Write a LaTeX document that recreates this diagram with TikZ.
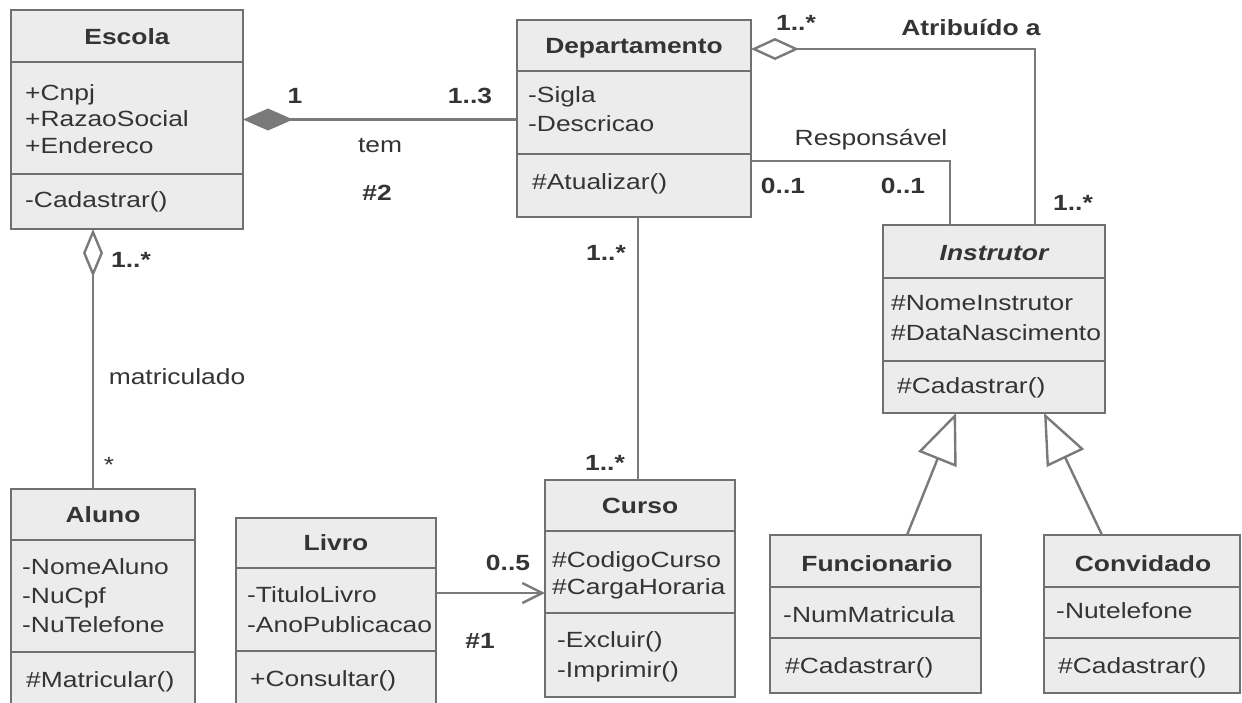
\documentclass[tikz,border=0pt]{standalone}
\usepackage{fontspec}
\setmainfont{Liberation Sans}[FakeStretch=1.2]
\usetikzlibrary{arrows.meta}

\definecolor{boxfill}{RGB}{236,236,236}
\definecolor{boxline}{RGB}{112,112,112}
\definecolor{linkline}{RGB}{122,122,122}
\definecolor{ink}{RGB}{52,52,52}

\newcommand\dsize{\fontsize{22}{26}\selectfont}

\tikzset{
  classbox/.style={draw=boxline, fill=boxfill, line width=2.4pt, inner sep=0pt, outer sep=0pt},
  divider/.style={draw=boxline, line width=2.4pt},
  ctitle/.style={font=\dsize\bfseries, text=ink, anchor=base, inner sep=0pt},
  member/.style={font=\dsize, text=ink, anchor=base west, inner sep=0pt},
  mult/.style={font=\dsize\bfseries, text=ink, anchor=base, inner sep=0pt},
  rolelabel/.style={font=\dsize, text=ink, anchor=base, inner sep=0pt},
  assoc/.style={draw=linkline, line width=2.4pt},
}

% class box: name, left, top, right, bottom, first divider, second divider
\newcommand\umlclass[7]{%
  \node[classbox, minimum width=#4pt-#2pt, minimum height=#5pt-#3pt]
    (#1) at ({(#2+#4)/2},{(#3+#5)/2}) {};
  \draw[divider] (#1.west |- 0,#6) -- (#1.east |- 0,#6);
  \draw[divider] (#1.west |- 0,#7) -- (#1.east |- 0,#7);
}

\begin{document}
\begin{tikzpicture}[x=1pt, y=-1pt]
\useasboundingbox (0,0) rectangle (1242,702);
\fill[white] (0,0) rectangle (1242,702);
\clip (0,0) rectangle (1242,702);

% ---------- classes ----------
\umlclass{escola}{11}{10}{243}{229}{62}{174}
\node[ctitle] (escola-t) at (127,44) {Escola};
\node[member] (escola-a1) at (25,100) {+Cnpj};
\node[member] (escola-a2) at (25,126) {+RazaoSocial};
\node[member] (escola-a3) at (25,153) {+Endereco};
\node[member] (escola-m1) at (25,207) {-Cadastrar()};

\umlclass{departamento}{517}{20}{751}{217}{71}{154}
\node[ctitle] (departamento-t) at (634,53) {Departamento};
\node[member] (departamento-a1) at (528,102) {-Sigla};
\node[member] (departamento-a2) at (528,131) {-Descricao};
\node[member] (departamento-m1) at (532,189) {\#Atualizar()};

\umlclass{instrutor}{883}{225}{1105}{413}{278}{361}
\node[ctitle, font=\dsize\bfseries\itshape] (instrutor-t) at (994,260) {Instrutor};
\node[member] (instrutor-a1) at (891,310) {\#NomeInstrutor};
\node[member] (instrutor-a2) at (891,340) {\#DataNascimento};
\node[member] (instrutor-m1) at (897,393) {\#Cadastrar()};

\umlclass{aluno}{11}{489}{195}{720}{540}{652}
\node[ctitle] (aluno-t) at (103,522) {Aluno};
\node[member] (aluno-a1) at (22,574) {-NomeAluno};
\node[member] (aluno-a2) at (22,603) {-NuCpf};
\node[member] (aluno-a3) at (22,632) {-NuTelefone};
\node[member] (aluno-m1) at (26,687) {\#Matricular()};

\umlclass{livro}{236}{518}{436}{720}{568}{651}
\node[ctitle] (livro-t) at (336,550) {Livro};
\node[member] (livro-a1) at (247,602) {-TituloLivro};
\node[member] (livro-a2) at (247,632) {-AnoPublicacao};
\node[member] (livro-m1) at (250,686) {+Consultar()};

\umlclass{curso}{545}{480}{735}{697}{531}{613}
\node[ctitle] (curso-t) at (640,513) {Curso};
\node[member] (curso-a1) at (552,567) {\#CodigoCurso};
\node[member] (curso-a2) at (552,594) {\#CargaHoraria};
\node[member] (curso-m1) at (557,647) {-Excluir()};
\node[member] (curso-m2) at (557,677) {-Imprimir()};

\umlclass{funcionario}{770}{535}{981}{693}{587}{638}
\node[ctitle] (funcionario-t) at (877,571) {Funcionario};
\node[member] (funcionario-a1) at (783,622) {-NumMatricula};
\node[member] (funcionario-m1) at (785,673) {\#Cadastrar()};

\umlclass{convidado}{1044}{535}{1240}{693}{587}{638}
\node[ctitle] (convidado-t) at (1143,571) {Convidado};
\node[member] (convidado-a1) at (1056,618) {-Nutelefone};
\node[member] (convidado-m1) at (1058,673) {\#Cadastrar()};

% ---------- relationships ----------
% composition Escola <>-- Departamento
\draw[assoc, {Diamond[length=50pt, width=22pt, fill=linkline]}-]
  (escola.east) -- (escola.east -| departamento.west);
\node[mult] (m-esc-dep1) at (295,103) {1};
\node[mult] (m-esc-dep2) at (470,103) {1..3};
\node[rolelabel] (l-tem) at (380,152) {tem};
\node[mult] (l-n2) at (377,200) {\#2};

% aggregation Escola <>-- Aluno
\draw[assoc, {Diamond[open, length=48pt, width=20pt, fill=white]}-]
  ([xshift=82pt]escola.south west) -- ([xshift=82pt]escola.south west |- aluno.north);
\node[mult] (m-esc-alu1) at (131,267) {1..*};
\node[rolelabel] (l-matriculado) at (177,384) {matriculado};
\node[rolelabel] (m-esc-alu2) at (109,472) {*};

% Departamento -- Curso
\draw[assoc] ([xshift=121pt]departamento.south west)
  -- ([xshift=121pt]departamento.south west |- curso.north);
\node[mult] (m-dep-cur1) at (606,260) {1..*};
\node[mult] (m-dep-cur2) at (605,470) {1..*};

% aggregation Departamento <>-- Instrutor (Atribuído a)
\draw[assoc, {Diamond[open, length=48pt, width=22pt, fill=white]}-]
  ([yshift=-29pt]departamento.north east) -| ([xshift=152pt]instrutor.north west);
\node[mult] (m-dep-ins1) at (796,30) {1..*};
\node[mult] (l-atribuido) at (971,35) {Atribuído a};
\node[mult] (m-dep-ins2) at (1073,210) {1..*};

% Departamento -- Instrutor (Responsável)
\draw[assoc] ([yshift=-141pt]departamento.north east) -| ([xshift=67pt]instrutor.north west);
\node[rolelabel] (l-responsavel) at (871,145) {Responsável};
\node[mult] (m-resp1) at (783,193) {0..1};
\node[mult] (m-resp2) at (903,193) {0..1};

% navigable association Livro --> Curso
\draw[assoc, -{Straight Barb[length=20pt, width=20pt]}]
  ([yshift=-75pt]livro.north east) -- ([yshift=-75pt]livro.north east -| curso.west);
\node[mult] (m-liv-cur) at (508,570) {0..5};
\node[mult] (l-n1) at (480,648) {\#1};

% generalization
\draw[assoc, -{Triangle[open, length=50pt, width=41pt, fill=white]}]
  ([xshift=137pt]funcionario.north west) -- ([xshift=73pt]instrutor.south west);
\draw[assoc, -{Triangle[open, length=50pt, width=41pt, fill=white]}]
  ([xshift=58pt]convidado.north west) -- ([xshift=161pt]instrutor.south west);
\end{tikzpicture}
\end{document}
